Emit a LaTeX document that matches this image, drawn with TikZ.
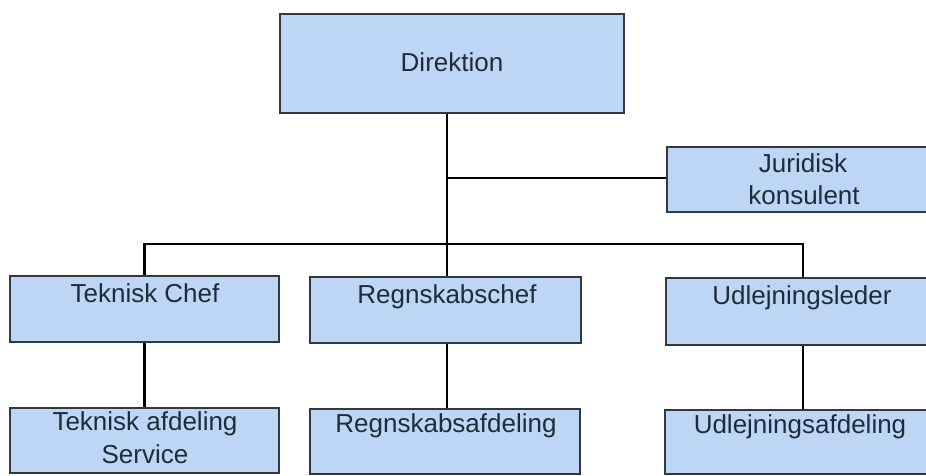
\documentclass[tikz,border=0pt]{standalone}
\usepackage{fontspec}
\setmainfont{Liberation Sans}
\definecolor{boxfill}{RGB}{189,214,245}
\definecolor{boxline}{RGB}{50,56,60}
\definecolor{txtcol}{RGB}{30,44,58}
\begin{document}
\begin{tikzpicture}[x=1pt,y=-1pt,
  orgbox/.style={draw=boxline,line width=1.8pt,fill=boxfill,rectangle,inner sep=0pt},
  lbl/.style={anchor=base,inner sep=0pt,text=txtcol,font=\fontsize{26}{30}\selectfont},
  conn/.style={draw=black,line width=2.8pt}]
\useasboundingbox (0,0) rectangle (926,476);
\begin{scope}
\clip (0,0) rectangle (926,476);
% boxes
\node[orgbox,minimum width=344pt,minimum height=99pt] (dir) at (452,63.5) {};
\node[orgbox,minimum width=273pt,minimum height=65pt] (jur) at (803.5,179.5) {};
\node[orgbox,minimum width=269pt,minimum height=66pt] (tc) at (144.5,309) {};
\node[orgbox,minimum width=271pt,minimum height=66pt] (rc) at (445.5,310) {};
\node[orgbox,minimum width=274pt,minimum height=67pt] (ul) at (803,311.5) {};
\node[orgbox,minimum width=269pt,minimum height=65pt] (ta) at (144.5,440.5) {};
\node[orgbox,minimum width=270pt,minimum height=65pt] (ra) at (445,441.5) {};
\node[orgbox,minimum width=275pt,minimum height=64pt] (ua) at (802.5,442) {};
% labels
\node[lbl] (tdir) at (452,72) {Direktion};
\node[lbl] (tjur1) at (803,172) {Juridisk};
\node[lbl] (tjur2) at (804,204) {konsulent};
\node[lbl] (ttc) at (145,302) {Teknisk Chef};
\node[lbl] (trc) at (447,303) {Regnskabschef};
\node[lbl] (tul) at (802,304) {Udlejningsleder};
\node[lbl] (tta1) at (145,430) {Teknisk afdeling};
\node[lbl] (tta2) at (145,463) {Service};
\node[lbl] (tra) at (446,432) {Regnskabsafdeling};
\node[lbl] (tua) at (800,433) {Udlejningsafdeling};
% connectors
\coordinate (bus) at (447,244);
\coordinate (jj) at (447,178);
\draw[conn] (dir.south -| bus) -- (bus);
\draw[conn] (jj) -- (jur.west |- jj);
\draw[conn] (tc.north) -- (tc.north |- bus) -- (ul.north |- bus) -- (ul.north);
\draw[conn] (bus) -- (bus |- rc.north);
\draw[conn] (tc.south) -- (ta.north);
\draw[conn] (rc.south -| bus) -- (bus |- ra.north);
\draw[conn] (ul.south) -- (ul.south |- ua.north);
\end{scope}
\end{tikzpicture}
\end{document}
